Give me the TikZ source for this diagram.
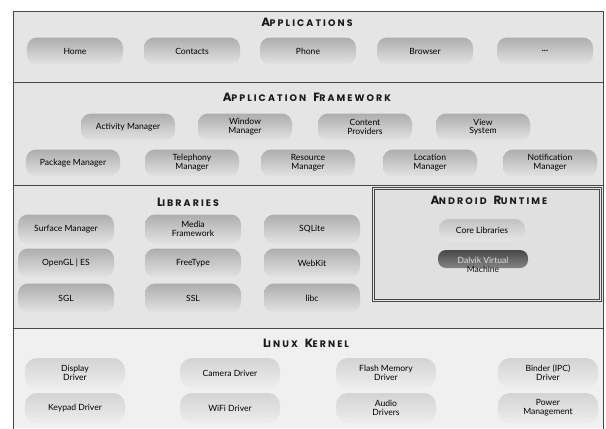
\documentclass[tikz,border=0pt]{standalone}
\usepackage{fontspec}
\newfontfamily\bodyf{Lato}
\newfontfamily\titlef{Poppins}[LetterSpace=22]
\newcommand\ptitle[2]{{\titlef\bfseries\fontsize{12}{12}\selectfont #1\kern-0.5bp\fontsize{9.5}{10}\selectfont #2}}
\newcommand\tsp{\hspace{7bp}}
\tikzset{
  panel/.style={draw=black!72, line width=0.8bp, fill=black!10, anchor=north west, inner sep=0pt},
  ttl/.style={text=black!90, inner sep=0pt, anchor=center},
  pill/.style={rounded corners=10bp, top color=black!32, bottom color=black!11, draw=none,
    minimum width=94bp, minimum height=27bp, inner sep=1bp, align=center,
    font=\bodyf\fontsize{8.6}{8.8}\selectfont, text=black},
  kpill/.style={pill, top color=black!17, bottom color=black!7, minimum width=100bp, minimum height=30bp, rounded corners=12bp},
}
\begin{document}
\begin{tikzpicture}[x=1bp,y=-1bp]
\useasboundingbox (0,0) rectangle (606,428);
\fill[white] (0,0) rectangle (606,428);

% panels
\node[panel, minimum width=590bp, minimum height=71bp] (apps) at (13,11) {};
\node[panel, minimum width=590bp, minimum height=103bp] (fw) at (13,82) {};
\node[panel, minimum width=590bp, minimum height=143bp] (libs) at (13,185) {};
\node[panel, draw=none, fill=black!6, minimum width=590bp, minimum height=100bp] (kern) at (13,328) {};
\draw[black!72, line width=0.8bp] (kern.south west) -- (kern.north west) -- (kern.north east) -- (kern.south east);
\node[panel, fill=black!12, double=black!10, double distance=1.4bp, line width=0.7bp, minimum width=227bp, minimum height=112bp] (rt) at (373,188) {};

% titles
\node[ttl] (tapps) at (307,22) {\ptitle{A}{PPLICATIONS}};
\node[ttl] (tfw) at (307,97) {\ptitle{A}{PPLICATION}\tsp\ptitle{F}{RAMEWORK}};
\node[ttl] (tlibs) at (188,202) {\ptitle{L}{IBRARIES}};
\node[ttl] (trt) at (489,200) {\ptitle{A}{NDROID}\tsp\ptitle{R}{UNTIME}};
\node[ttl] (tkern) at (306,343) {\ptitle{L}{INUX}\tsp\ptitle{K}{ERNEL}};

% applications
\node[pill, minimum width=96bp] (home) at (75,51) {Home};
\node[pill, minimum width=96bp] (contacts) at (192,51) {Contacts};
\node[pill, minimum width=96bp] (phone) at (308,51) {Phone};
\node[pill, minimum width=96bp] (browser) at (425,51) {Browser};
\node[pill, minimum width=96bp] (more) at (545,51) {\textbf{...}};

% framework
\node[pill] (act) at (128,127) {Activity Manager};
\node[pill] (win) at (245,127) {Window\\Manager};
\node[pill] (cont) at (365,127) {Content\\Providers};
\node[pill] (view) at (483,127) {View\\System};
\node[pill] (pkg) at (73,163) {Package Manager};
\node[pill] (tel) at (192,163) {Telephony\\Manager};
\node[pill] (res) at (308,163) {Resource\\Manager};
\node[pill] (loc) at (430,163) {Location\\Manager};
\node[pill] (notif) at (550,163) {Notification\\Manager};

% libraries
\node[pill, minimum width=96bp, minimum height=29bp] (surf) at (66,229) {Surface Manager};
\node[pill, minimum width=96bp, minimum height=29bp] (media) at (193,229) {Media\\Framework};
\node[pill, minimum width=96bp, minimum height=29bp] (sqlite) at (312,229) {SQLite};
\node[pill, minimum width=96bp, minimum height=29bp] (opengl) at (66,263) {OpenGL | ES};
\node[pill, minimum width=96bp, minimum height=29bp] (free) at (193,263) {FreeType};
\node[pill, minimum width=96bp, minimum height=29bp] (webkit) at (312,263) {WebKit};
\node[pill, minimum width=96bp, minimum height=29bp] (sgl) at (66,298) {SGL};
\node[pill, minimum width=96bp, minimum height=29bp] (ssl) at (193,298) {SSL};
\node[pill, minimum width=96bp, minimum height=29bp] (libc) at (312,298) {libc};

% runtime
\node[pill, top color=black!24, bottom color=black!10, minimum width=86bp, minimum height=22bp] (core) at (482,230) {Core Libraries};
\node[pill, top color=black!72, bottom color=black!48, minimum width=90bp, minimum height=18bp, rounded corners=8bp] (dalvikbg) at (483,259) {};
\node[ttl, align=center, font=\bodyf\fontsize{8.6}{9.5}\selectfont] (dalvik) at (483,265) {\textcolor{black!12}{Dalvik Virtual}\\Machine};

% kernel
\node[kpill] (disp) at (75,373) {Display\\Driver};
\node[kpill] (cam) at (230,373) {Camera Driver};
\node[kpill] (flash) at (386,373) {Flash Memory\\Driver};
\node[kpill] (binder) at (548,373) {Binder (IPC)\\Driver};
\node[kpill] (key) at (75,408) {Keypad Driver};
\node[kpill] (wifi) at (230,408) {WiFi Driver};
\node[kpill] (audio) at (386,408) {Audio\\Drivers};
\node[kpill] (power) at (548,408) {Power\\Management};
\end{tikzpicture}
\end{document}
